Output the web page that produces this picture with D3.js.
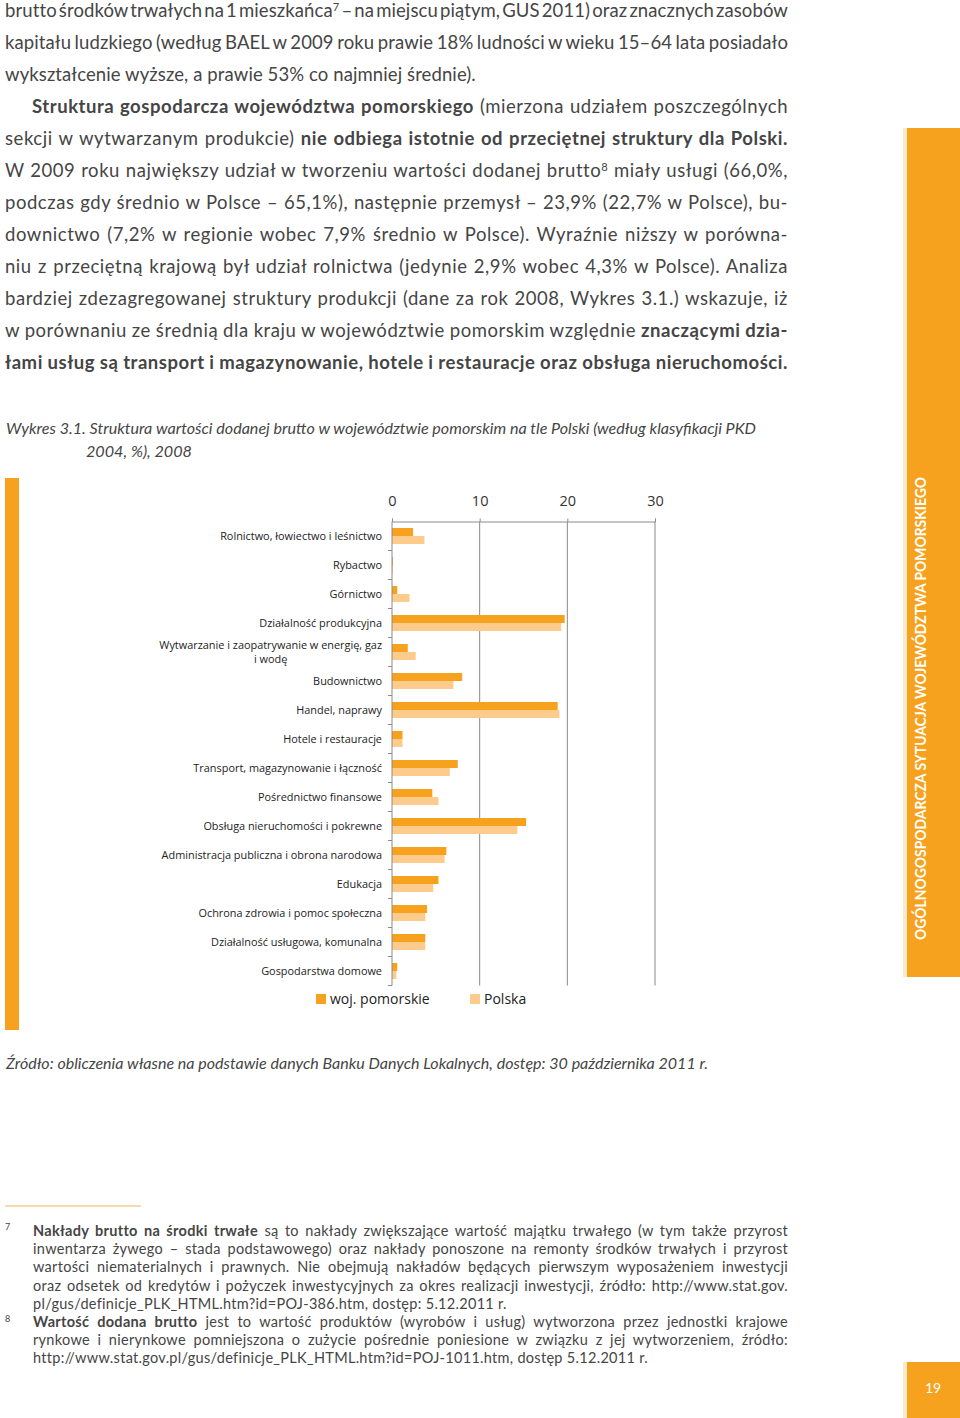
<!DOCTYPE html>
<html>
<head>
<meta charset="utf-8">
<script src="https://cdn.jsdelivr.net/npm/d3@7"></script>
<style>
  body { margin: 0; background: #fff; }
  svg { display: block; }
</style>
</head>
<body>
<div id="page"></div>
<script>
// chart data (Wykres 3.1., %)
const categories = [
  "Rolnictwo, łowiectwo i leśnictwo",
  "Rybactwo",
  "Górnictwo",
  "Działalność produkcyjna",
  "Wytwarzanie i zaopatrywanie w energię,  gaz|i wodę",
  "Budownictwo",
  "Handel, naprawy",
  "Hotele i restauracje",
  "Transport, magazynowanie i łączność",
  "Pośrednictwo finansowe",
  "Obsługa nieruchomości i pokrewne",
  "Administracja publiczna i obrona narodowa",
  "Edukacja",
  "Ochrona zdrowia i pomoc społeczna",
  "Działalność usługowa, komunalna",
  "Gospodarstwa domowe"
];
const pomorskie = [2.4, 0.1, 0.6, 19.7, 1.8, 8.0, 18.9, 1.2, 7.5, 4.6, 15.3, 6.2, 5.3, 4.0, 3.8, 0.6];
const polska    = [3.7, 0.1, 2.0, 19.3, 2.7, 7.0, 19.1, 1.2, 6.6, 5.3, 14.3, 6.0, 4.7, 3.8, 3.8, 0.5];
const seriesNames = ["woj. pomorskie", "Polska"];
const xTicks = [0, 10, 20, 30];

// page text
const bodyLines = [
  [["brutto środków trwałych na 1 mieszkańca"], ["7", "sup"], [" – na miejscu piątym, GUS 2011) oraz znacznych zasobów"]],
  [["kapitału ludzkiego (według BAEL w 2009 roku prawie 18% ludności w wieku 15–64 lata posiadało"]],
  [["wykształcenie wyższe, a prawie 53% co najmniej średnie)."]],
  [["Struktura gospodarcza województwa pomorskiego", "b"], [" (mierzona udziałem poszczególnych"]],
  [["sekcji w wytwarzanym produkcie) "], ["nie odbiega istotnie od przeciętnej struktury dla Polski.", "b"]],
  [["W 2009 roku największy udział w tworzeniu wartości dodanej brutto"], ["8", "sup"], [" miały usługi (66,0%,"]],
  [["podczas gdy średnio w Polsce – 65,1%), następnie przemysł – 23,9% (22,7% w Polsce), bu-"]],
  [["downictwo (7,2% w regionie wobec 7,9% średnio w Polsce). Wyraźnie niższy w porówna-"]],
  [["niu z przeciętną krajową był udział rolnictwa (jedynie 2,9% wobec 4,3% w Polsce). Analiza"]],
  [["bardziej zdezagregowanej struktury produkcji (dane za rok 2008, Wykres 3.1.) wskazuje, iż"]],
  [["w porównaniu ze średnią dla kraju w województwie pomorskim względnie "], ["znaczącymi dzia-", "b"]],
  [["łami usług są transport i magazynowanie, hotele i restauracje oraz obsługa nieruchomości.", "b"]]
];
const bodyIndent = [0, 0, 0, 27, 0, 0, 0, 0, 0, 0, 0, 0];
const bodyJustify = [1, 1, 0, 1, 1, 1, 1, 1, 1, 1, 1, 1];

const footLines = [
  [["Nakłady brutto na środki trwałe", "b"], [" są to nakłady zwiększające wartość majątku trwałego (w tym także przyrost"]],
  [["inwentarza żywego – stada podstawowego) oraz nakłady ponoszone na remonty środków trwałych i przyrost"]],
  [["wartości niematerialnych i prawnych. Nie obejmują nakładów będących pierwszym wyposażeniem inwestycji"]],
  [["oraz odsetek od kredytów i pożyczek inwestycyjnych za okres realizacji inwestycji, źródło: http://www.stat.gov."]],
  [["pl/gus/definicje_PLK_HTML.htm?id=POJ-386.htm, dostęp: 5.12.2011 r."]],
  [["Wartość dodana brutto", "b"], [" jest to wartość produktów (wyrobów i usług) wytworzona przez jednostki krajowe"]],
  [["rynkowe i nierynkowe pomniejszona o zużycie pośrednie poniesione w związku z jej wytworzeniem, źródło:"]],
  [["http://www.stat.gov.pl/gus/definicje_PLK_HTML.htm?id=POJ-1011.htm, dostęp 5.12.2011 r."]]
];
const footJustify = [1, 1, 1, 1, 0, 1, 1, 0];

const captionLines = [
  "Wykres 3.1. Struktura wartości dodanej brutto w województwie pomorskim na tle Polski (według klasyfikacji PKD",
  "2004, %), 2008"
];
const sourceText = "Źródło: obliczenia własne na podstawie danych Banku Danych Lokalnych, dostęp: 30 października 2011 r.";
const sideLabel = "OGÓLNOGOSPODARCZA SYTUACJA WOJEWÓDZTWA POMORSKIEGO";
const pageNumber = "19";

const W = 960, H = 1418;
const orange = "#F6A21E", light = "#FDCB8C", cream = "#FDEBC8";
const textColor = "#454545";
const bodyFont = "Lato, 'Open Sans', sans-serif";

const svg = d3.select("#page").append("svg")
  .attr("width", W)
  .attr("height", H);

// write one line of mixed text; letter-spacing takes part of the slack, spaces take the rest
function writeLine(g, segs, x, y, size, right, justify, ls) {
  const t = g.append("text")
    .attr("x", x)
    .attr("y", y)
    .style("font-family", bodyFont)
    .style("font-size", size + "px")
    .style("letter-spacing", ls + "px")
    .attr("fill", textColor);
  segs.forEach(s => {
    const sp = t.append("tspan").text(s[0]);
    if (s[1] === "b") sp.style("font-weight", "bold");
    if (s[1] === "sup") sp.style("font-size", (size * 0.6) + "px").attr("baseline-shift", "super");
  });
  if (justify) {
    const str = segs.map(s => s[0]).join("");
    const natural = t.node().getComputedTextLength();
    const spaces = str.split(" ").length - 1;
    if (spaces > 0) t.style("word-spacing", ((right - x - natural) / spaces) + "px");
  }
  return t;
}

// body text
const body = svg.append("g");
bodyLines.forEach((segs, i) => {
  const ls = i < 3 ? 0.1 : 0.55;
  writeLine(body, segs, 5 + bodyIndent[i], 17 + i * 32, 18.5, 788, bodyJustify[i], ls);
});

// right orange side panel
svg.append("rect").attr("x", 903).attr("y", 128).attr("width", 5).attr("height", 849).attr("fill", cream);
svg.append("rect").attr("x", 907).attr("y", 128).attr("width", 53).attr("height", 849).attr("fill", orange);
svg.append("text")
  .attr("transform", "translate(926,940) rotate(-90)")
  .attr("textLength", 463)
  .attr("lengthAdjust", "spacingAndGlyphs")
  .style("font-family", bodyFont)
  .style("font-size", "15px")
  .style("font-weight", "bold")
  .attr("fill", "#fff")
  .text(sideLabel);

// page number box
svg.append("rect").attr("x", 903).attr("y", 1362).attr("width", 5).attr("height", 56).attr("fill", cream);
svg.append("rect").attr("x", 907).attr("y", 1362).attr("width", 53).attr("height", 56).attr("fill", orange);
svg.append("text")
  .attr("x", 933).attr("y", 1393)
  .attr("text-anchor", "middle")
  .style("font-family", bodyFont)
  .style("font-size", "14px")
  .attr("fill", "#fff")
  .text(pageNumber);

// caption
svg.append("text")
  .attr("x", 6).attr("y", 434)
  .attr("textLength", 750)
  .attr("lengthAdjust", "spacingAndGlyphs")
  .style("font-family", bodyFont)
  .style("font-size", "15.5px")
  .style("font-style", "italic")
  .attr("fill", textColor)
  .text(captionLines[0]);
svg.append("text")
  .attr("x", 86).attr("y", 457)
  .attr("textLength", 106)
  .attr("lengthAdjust", "spacingAndGlyphs")
  .style("font-family", bodyFont)
  .style("font-size", "15.5px")
  .style("font-style", "italic")
  .attr("fill", textColor)
  .text(captionLines[1]);

// left orange bar next to the chart
svg.append("rect").attr("x", 5).attr("y", 478).attr("width", 14).attr("height", 552).attr("fill", orange);

// chart
const x = d3.scaleLinear().domain([0, 30]).range([392, 655]);
const y = d3.scaleBand().domain(categories).range([521.5, 985.5]);
const barH = 8;
const chart = svg.append("g");

// gridlines
chart.append("g")
  .selectAll("line")
  .data(xTicks.slice(1))
  .join("line")
  .attr("x1", d => x(d)).attr("x2", d => x(d))
  .attr("y1", y.range()[0]).attr("y2", y.range()[1])
  .attr("stroke", "#8a8a8a")
  .attr("stroke-width", 1);

// bars
chart.append("g")
  .selectAll("rect")
  .data(categories)
  .join("rect")
  .attr("x", x(0))
  .attr("y", d => y(d) + y.bandwidth() / 2 - barH)
  .attr("width", (d, i) => x(pomorskie[i]) - x(0))
  .attr("height", barH)
  .attr("fill", orange);
chart.append("g")
  .selectAll("rect")
  .data(categories)
  .join("rect")
  .attr("x", x(0))
  .attr("y", d => y(d) + y.bandwidth() / 2)
  .attr("width", (d, i) => x(polska[i]) - x(0))
  .attr("height", barH)
  .attr("fill", light);

// top axis
const xAxis = chart.append("g")
  .attr("transform", `translate(0,${y.range()[0]})`)
  .call(d3.axisTop(x).tickValues(xTicks).tickSize(3).tickPadding(12.5));
xAxis.select(".domain").attr("stroke", "#8a8a8a");
xAxis.selectAll(".tick line").attr("stroke", "#8a8a8a");
xAxis.selectAll(".tick text")
  .style("font-family", "'Open Sans', sans-serif")
  .style("font-size", "14.5px")
  .attr("fill", "#333");

// left axis with ticks at category boundaries
chart.append("line")
  .attr("x1", x(0)).attr("x2", x(0))
  .attr("y1", y.range()[0]).attr("y2", y.range()[1])
  .attr("stroke", "#8a8a8a");
chart.append("g")
  .selectAll("line")
  .data(categories)
  .join("line")
  .attr("x1", x(0) - 4).attr("x2", x(0))
  .attr("y1", d => y(d) + y.bandwidth()).attr("y2", d => y(d) + y.bandwidth())
  .attr("stroke", "#8a8a8a");

// category labels
const labels = chart.append("g")
  .style("font-family", "'Open Sans', sans-serif")
  .style("font-size", "10.9px")
  .attr("fill", "#222");
categories.forEach(c => {
  const parts = c.split("|");
  const cy = y(c) + y.bandwidth() / 2;
  if (parts.length === 1) {
    labels.append("text")
      .attr("x", 382).attr("y", cy + 4)
      .attr("text-anchor", "end")
      .text(c);
  } else {
    const first = labels.append("text")
      .attr("x", 382).attr("y", cy - 3)
      .attr("text-anchor", "end")
      .text(parts[0]);
    const mid = 382 - first.node().getComputedTextLength() / 2;
    labels.append("text")
      .attr("x", mid).attr("y", cy + 11)
      .attr("text-anchor", "middle")
      .text(parts[1]);
  }
});

// legend
const legend = chart.append("g")
  .style("font-family", "'Open Sans', sans-serif")
  .style("font-size", "14px")
  .attr("fill", "#222");
const legendX = [316, 470];
const legendColors = [orange, light];
seriesNames.forEach((name, i) => {
  legend.append("rect")
    .attr("x", legendX[i]).attr("y", 994)
    .attr("width", 10).attr("height", 10)
    .attr("fill", legendColors[i]);
  legend.append("text")
    .attr("x", legendX[i] + 14).attr("y", 1004)
    .text(name);
});

// source
svg.append("text")
  .attr("x", 6).attr("y", 1069)
  .attr("textLength", 702)
  .attr("lengthAdjust", "spacingAndGlyphs")
  .style("font-family", bodyFont)
  .style("font-size", "15.5px")
  .style("font-style", "italic")
  .attr("fill", textColor)
  .text(sourceText);

// footnotes
svg.append("line")
  .attr("x1", 5).attr("x2", 141)
  .attr("y1", 1206).attr("y2", 1206)
  .attr("stroke", "#F2B45A")
  .attr("stroke-width", 1.2);
const foot = svg.append("g");
footLines.forEach((segs, i) => {
  writeLine(foot, segs, 33, 1236 + i * 18.2, 14.5, 788, footJustify[i], 0.3);
});
[["7", 1230], ["8", 1322]].forEach(n => {
  foot.append("text")
    .attr("x", 5).attr("y", n[1])
    .style("font-family", bodyFont)
    .style("font-size", "9px")
    .attr("fill", textColor)
    .text(n[0]);
});
</script>
</body>
</html>
